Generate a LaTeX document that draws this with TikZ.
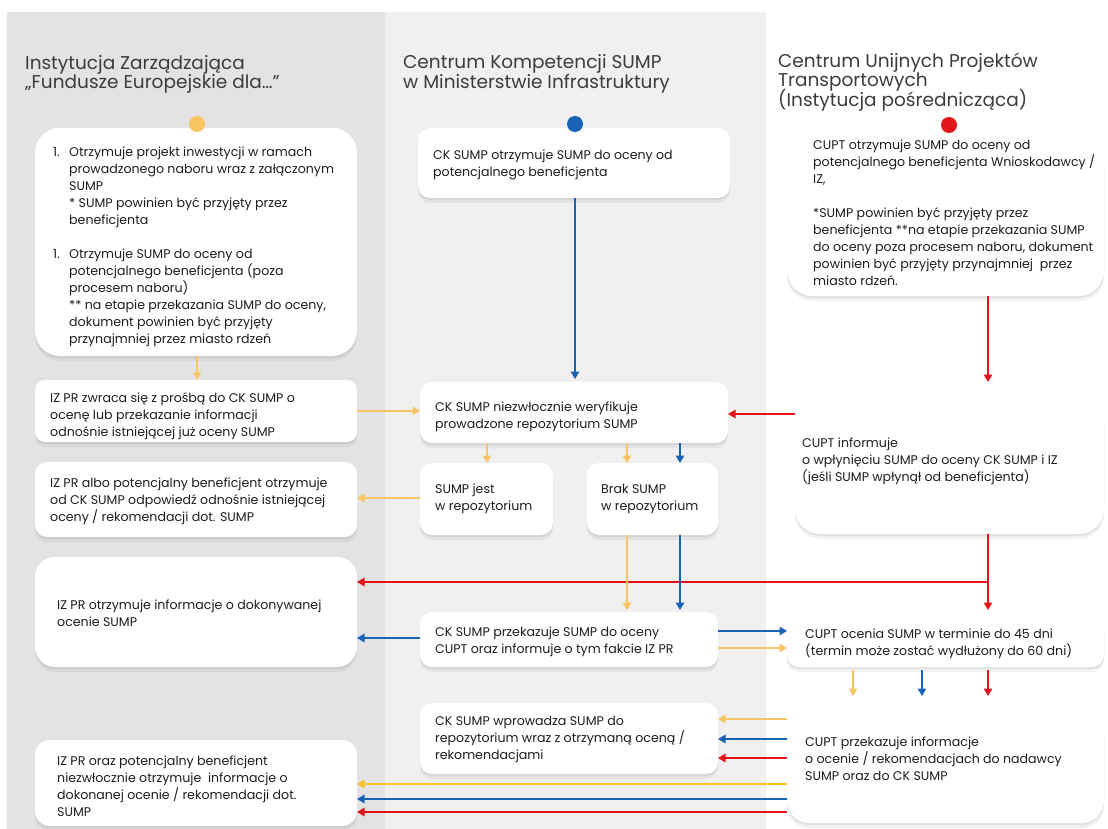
\documentclass[tikz,border=0pt]{standalone}
\usepackage{fontspec}
\setmainfont{Poppins}
\usetikzlibrary{arrows.meta,shadows}
\definecolor{colL}{HTML}{E3E3E3}
\definecolor{colM}{HTML}{F0F0F0}
\definecolor{cy}{HTML}{F8C464}
\definecolor{cyb}{HTML}{F6C22A}
\definecolor{cb}{HTML}{1A62B5}
\definecolor{cr}{HTML}{E3141C}
\definecolor{txtc}{HTML}{1E1E1E}
\definecolor{titc}{HTML}{3C3C3C}
\newcommand{\tightlines}{\lineskiplimit=-30pt\relax\lineskip=0pt\relax}
\tikzset{
  box/.style={fill=white, draw=none, inner sep=0pt, outer sep=0pt,
    drop shadow={shadow xshift=0pt, shadow yshift=-2pt, opacity=0.15},
    drop shadow={shadow xshift=0pt, shadow yshift=-5pt, opacity=0.11}},
  txt/.style={anchor=north west, inner sep=0pt, align=left, text=txtc,
    font=\fontsize{12.6}{17}\selectfont, execute at begin node=\tightlines},
  ttl/.style={anchor=north west, inner sep=0pt, align=left, text=titc,
    font=\fontsize{18.5}{19.5}\selectfont, execute at begin node=\tightlines},
  conn/.style={line width=1.4pt, -{Triangle[length=7.5pt,width=8.5pt]}},
  yarr/.style={conn, draw=cy, fill=cy},
  ybarr/.style={conn, draw=cyb, fill=cyb},
  barr/.style={conn, draw=cb, fill=cb},
  rarr/.style={conn, draw=cr, fill=cr},
  dot/.style={circle, inner sep=0pt, minimum size=16pt, draw=none}
}
\newcommand{\mybox}[6]{\node[box, rounded corners=#6pt, minimum width={(#4-#2)*1pt}, minimum height={(#5-#3)*1pt}] (#1) at ({(#2+#4)/2},{(#3+#5)/2}) {};}
\begin{document}
\begin{tikzpicture}[x=1pt,y=-1pt]
\useasboundingbox (0,0) rectangle (1108,829);
\fill[white] (0,0) rectangle (1108,829);
\fill[colL] (7,12) rectangle (385,829);
\fill[colM] (385,12) rectangle (766,829);

% titles
\node[ttl] (tL) at (25,55) {\strut Instytucja Zarządzająca\\„Fundusze Europejskie dla…”};
\node[ttl] (tM) at (403,54.5) {\strut Centrum Kompetencji SUMP\\w Ministerstwie Infrastruktury};
\node[ttl] (tR) at (778,52.5) {\strut Centrum Unijnych Projektów\\Transportowych\\(Instytucja pośrednicząca)};

% boxes
\mybox{L1}{35}{128}{357}{356}{25}
\mybox{L2}{35}{380}{357}{442}{10}
\mybox{L3}{35}{462}{357}{537}{12}
\mybox{L4}{35}{557}{357}{667}{20}
\mybox{L5}{35}{740}{357}{826}{15}
\mybox{M1}{418}{128}{730}{198}{12}
\mybox{M2}{420}{382}{728}{443}{12}
\mybox{M3}{420}{463}{553}{535}{12}
\mybox{M4}{587}{463}{718}{535}{12}
\mybox{M5}{420}{612}{718}{667}{12}
\mybox{M6}{420}{703}{718}{774}{12}
\mybox{R1}{787}{131}{1104}{296}{25}
\mybox{R2}{795}{393}{1104}{534}{25}
\mybox{R3}{787}{612}{1104}{667}{12}
\mybox{R4}{787}{702}{1104}{823}{22}

% texts
\node[txt] (L1t) at (53,144.5) {\strut\makebox[16pt][l]{1.}Otrzymuje projekt inwestycji w ramach\\
\hspace*{16pt}prowadzonego naboru wraz z załączonym\\
\hspace*{16pt}SUMP\\
\hspace*{16pt}* SUMP powinien być przyjęty przez\\
\hspace*{16pt}beneficjenta\\[17pt]
\makebox[16pt][l]{1.}Otrzymuje SUMP do oceny od\\
\hspace*{16pt}potencjalnego beneficjenta (poza\\
\hspace*{16pt}procesem naboru)\\
\hspace*{16pt}** na etapie przekazania SUMP do oceny,\\
\hspace*{16pt}dokument powinien być przyjęty\\
\hspace*{16pt}przynajmniej przez miasto rdzeń};
\node[txt] (L2t) at (50,390.5) {\strut IZ PR zwraca się z prośbą do CK SUMP o\\ocenę lub przekazanie informacji\\odnośnie istniejącej już oceny SUMP};
\node[txt] (L3t) at (50,475.5) {\strut IZ PR albo potencjalny beneficjent otrzymuje\\od CK SUMP odpowiedź odnośnie istniejącej\\oceny / rekomendacji dot. SUMP};
\node[txt] (L4t) at (57,597.5) {\strut IZ PR otrzymuje informacje o dokonywanej\\ocenie SUMP};
\node[txt] (L5t) at (57,753.5) {\strut IZ PR oraz potencjalny beneficjent\\niezwłocznie otrzymuje\ \ informacje o\\dokonanej ocenie / rekomendacji dot.\\SUMP};
\node[txt] (M1t) at (433,147.5) {\strut CK SUMP otrzymuje SUMP do oceny od\\potencjalnego beneficjenta};
\node[txt] (M2t) at (435,399.5) {\strut CK SUMP niezwłocznie weryfikuje\\prowadzone repozytorium SUMP};
\node[txt] (M3t) at (435,481.5) {\strut SUMP jest\\w repozytorium};
\node[txt] (M4t) at (601,481.5) {\strut Brak SUMP\\w repozytorium};
\node[txt] (M5t) at (435,624.5) {\strut CK SUMP przekazuje SUMP do oceny\\CUPT oraz informuje o tym fakcie IZ PR};
\node[txt] (M6t) at (435,713.5) {\strut CK SUMP wprowadza SUMP do\\repozytorium wraz z otrzymaną oceną /\\rekomendacjami};
\node[txt] (R1t) at (813,137.5) {\strut CUPT otrzymuje SUMP do oceny od\\potencjalnego beneficjenta Wnioskodawcy /\\IZ,\\[17pt]*SUMP powinien być przyjęty przez\\beneficjenta **na etapie przekazania SUMP\\do oceny poza procesem naboru, dokument\\powinien być przyjęty przynajmniej\ \ przez\\miasto rdzeń.};
\node[txt] (R2t) at (802,435.5) {\strut CUPT informuje\\o wpłynięciu SUMP do oceny CK SUMP i IZ\\(jeśli SUMP wpłynął od beneficjenta)};
\node[txt] (R3t) at (805,626.5) {\strut CUPT ocenia SUMP w terminie do 45 dni\\(termin może zostać wydłużony do 60 dni)};
\node[txt] (R4t) at (805,734.5) {\strut CUPT przekazuje informacje\\o ocenie / rekomendacjach do nadawcy\\SUMP oraz do CK SUMP};

% helper coordinates
\coordinate (xA) at (197,0);
\coordinate (xB) at (575,0);
\coordinate (xC) at (988,0);
\coordinate (xD) at (487,0);
\coordinate (xE) at (627,0);
\coordinate (xF) at (680,0);
\coordinate (xG) at (853,0);
\coordinate (xH) at (922,0);
\coordinate (yA) at (0,411);
\coordinate (yB) at (0,414);
\coordinate (yC) at (0,498);
\coordinate (yE) at (0,638);
\coordinate (yF) at (0,631);
\coordinate (yG) at (0,648);
\coordinate (yH) at (0,719);
\coordinate (yI) at (0,739);
\coordinate (yJ) at (0,758);
\coordinate (yK) at (0,784);
\coordinate (yL) at (0,799);
\coordinate (yM) at (0,812);
\coordinate (rj) at (988,582);

% connectors
\draw[yarr] (L1.south -| xA) -- (L2.north -| xA);
\draw[barr, shorten >=3pt] (M1.south -| xB) -- (M2.north -| xB);
\draw[rarr, shorten >=11pt] (R1.south -| xC) -- (R2.north -| xC);
\draw[yarr] (L2.east |- yA) -- (M2.west |- yA);
\draw[rarr] (R2.west |- yB) -- (M2.east |- yB);
\draw[yarr] (M2.south -| xD) -- (M3.north -| xD);
\draw[yarr] (M2.south -| xE) -- (M4.north -| xE);
\draw[barr] (M2.south -| xF) -- (M4.north -| xF);
\draw[yarr] (M3.west |- yC) -- (L3.east |- yC);
\draw[rarr] (rj) -- (L4.east |- rj);
\draw[rarr, shorten >=2pt] (R2.south -| xC) -- (R3.north -| xC);
\draw[yarr, shorten >=2pt] (M4.south -| xE) -- (M5.north -| xE);
\draw[barr, shorten >=2pt] (M4.south -| xF) -- (M5.north -| xF);
\draw[barr] (M5.west |- yE) -- (L4.east |- yE);
\draw[barr] (M5.east |- yF) -- (R3.west |- yF);
\draw[yarr] (M5.east |- yG) -- (R3.west |- yG);
\draw[yarr, shorten <=3pt, shorten >=6pt] (R3.south -| xG) -- (R4.north -| xG);
\draw[barr, shorten <=3pt, shorten >=6pt] (R3.south -| xH) -- (R4.north -| xH);
\draw[rarr, shorten <=3pt, shorten >=6pt] (R3.south -| xC) -- (R4.north -| xC);
\draw[yarr] (R4.west |- yH) -- (M6.east |- yH);
\draw[barr] (R4.west |- yI) -- (M6.east |- yI);
\draw[rarr] (R4.west |- yJ) -- (M6.east |- yJ);
\draw[ybarr] (R4.west |- yK) -- (L5.east |- yK);
\draw[barr] (R4.west |- yL) -- (L5.east |- yL);
\draw[rarr] (R4.west |- yM) -- (L5.east |- yM);

% dots
\node[dot, fill=cy] (dL) at (197,124) {};
\node[dot, fill=cb] (dM) at (575,124) {};
\node[dot, fill=cr] (dR) at (949,125) {};
\end{tikzpicture}
\end{document}
